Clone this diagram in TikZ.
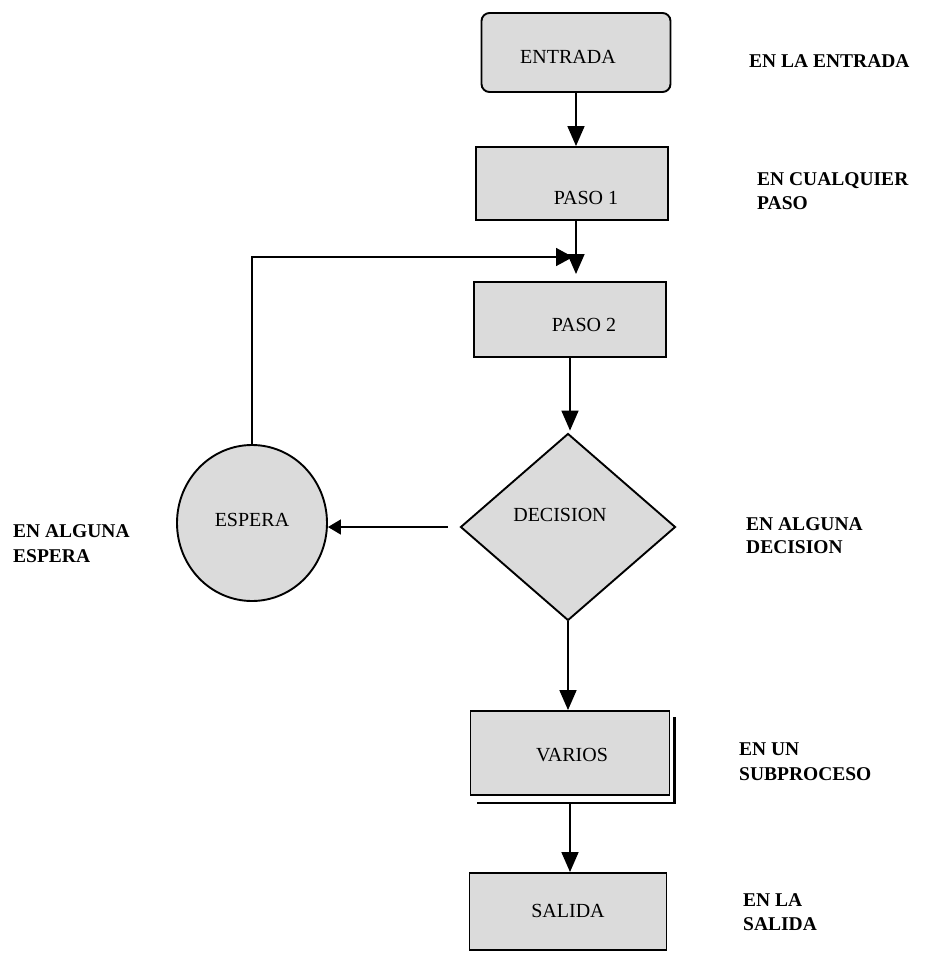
\documentclass[tikz,border=0pt]{standalone}
\usepackage{fontspec}
\setmainfont{Liberation Serif}
\usetikzlibrary{arrows.meta,shapes.geometric}

\begin{document}
\begin{tikzpicture}[x=1pt,y=-1pt,
  shapefill/.style={fill=black!14},
  outline/.style={draw, line width=1.9pt},
  box/.style={rectangle, outline, shapefill, inner sep=0pt},
  boxtext/.style={font=\fontsize{20}{24}\selectfont, inner sep=0pt},
  side/.style={font=\fontsize{19.5}{23}\selectfont\bfseries, inner sep=0pt, anchor=base west},
  arr/.style={line width=1.6pt, -{Triangle[length=20pt,width=17pt]}},
  arrback/.style={line width=1.6pt, -{Triangle[length=17pt,width=18pt]}},
  arrside/.style={line width=1.6pt, -{Triangle[length=13pt,width=15pt]}}
]
\useasboundingbox (0,0) rectangle (925,954);

% process column
\node[box, rounded corners=8pt, minimum width=189pt, minimum height=79pt] (entrada) at (576,52.5) {};
\node[box, minimum width=192pt, minimum height=73pt] (paso1) at (572,183.5) {};
\node[box, minimum width=192pt, minimum height=75pt] (paso2) at (570,319.5) {};
\node[diamond, outline, shapefill, inner sep=0pt,
      minimum width=215pt, minimum height=187pt] (decision) at (568,527) {};
\node[ellipse, outline, shapefill, inner sep=0pt,
      minimum width=150pt, minimum height=156pt] (espera) at (252,523) {};
% subprocess box with its offset double edge
\node[box, minimum width=199pt, minimum height=84pt] (varios) at (570,753) {};
\draw[line width=2.8pt] ([shift={(4,7)}]varios.north east) |- ([shift={(7,7)}]varios.south west);
\node[box, minimum width=197pt, minimum height=77pt] (salida) at (568,911.5) {};

% texts inside the shapes
\node[boxtext] (tentrada) at (568,57) {ENTRADA};
\node[boxtext] (tpaso1) at (586,198) {PASO 1};
\node[boxtext] (tpaso2) at (584,325) {PASO 2};
\node[boxtext] (tdecision) at (560,515) {DECISION};
\node[boxtext] (tespera) at (252,520) {ESPERA};
\node[boxtext] (tvarios) at (572,755) {VARIOS};
\node[boxtext] (tsalida) at (568,911) {SALIDA};

% connectors
\coordinate (join) at (576,274);
\coordinate (back) at (573,257);
\draw[arr] (entrada.south) -- (entrada.south |- paso1.north);
\draw[arr] (paso1.south -| join) -- (join);
\draw[arrback] (espera.north) |- (back);
\draw[arr] (paso2.south) -- ([yshift=2pt]paso2.south |- decision.north);
\draw[arr] (decision.south) -- (decision.south |- varios.north);
\draw[arr] ([yshift=-7pt]varios.south) -- (varios.south |- salida.north);
\draw[arrside, shorten <=12pt] (decision.west) -- (decision.west -| espera.east);

% side notes
\node[side] (nA) at (749,67) {EN LA ENTRADA};
\node[side] (nB1) at (757,185) {EN CUALQUIER};
\node[side] (nB2) at (757,209) {PASO};
\node[side] (nC1) at (13,537) {EN ALGUNA};
\node[side] (nC2) at (13,562) {ESPERA};
\node[side] (nD1) at (746,530) {EN ALGUNA};
\node[side] (nD2) at (746,553) {DECISION};
\node[side] (nE1) at (739,755) {EN UN};
\node[side] (nE2) at (739,780) {SUBPROCESO};
\node[side] (nF1) at (743,906) {EN LA};
\node[side] (nF2) at (743,930) {SALIDA};
\end{tikzpicture}
\end{document}
